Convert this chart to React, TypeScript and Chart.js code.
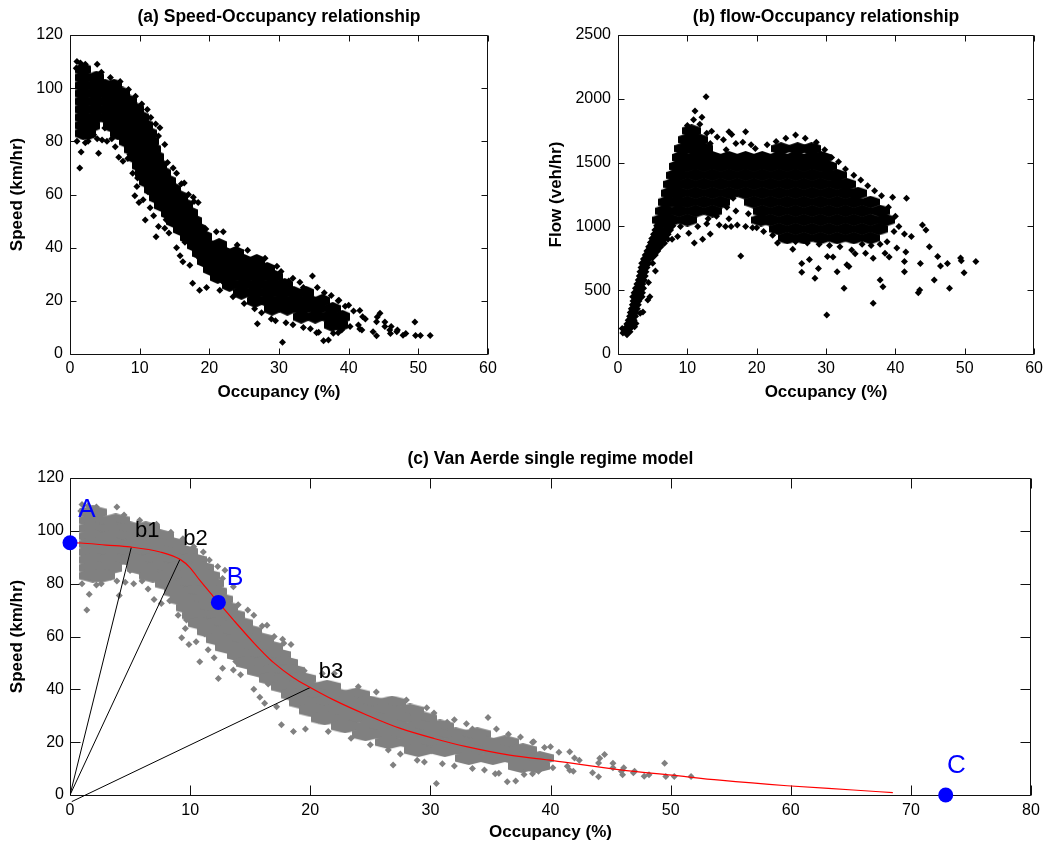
import React, { useEffect, useRef } from "react";
import { Chart, registerables } from "chart.js";

Chart.register(...registerables);

const FONT = "'Liberation Sans', Arial, Helvetica, sans-serif";

// ---------------- (a)/(c) speed vs occupancy observations ----------------
// dense part of the cloud, read row by row (occupancy %, speed km/h)
const freeFlowCore: [number, number][] = [
  [1.9, 107],
  [1.9, 104], [3.8, 104],
  [1.9, 101], [3.5, 101], [5.0, 101], [6.3, 101],
  [1.9, 98], [3.8, 98], [5.7, 98], [7.5, 98],
  [1.9, 95], [3.6, 95], [5.3, 95], [7.0, 95], [8.5, 95],
  [1.9, 92], [3.8, 92], [5.7, 92], [7.6, 92], [9.5, 92],
  [1.9, 89], [3.6, 89], [5.3, 89], [7.0, 89], [8.6, 89], [10.2, 89],
  [1.9, 86], [3.2, 86], [5.9, 86], [7.5, 86], [9.2, 86], [10.8, 86],
  [1.9, 83], [2.6, 83], [6.9, 83], [8.4, 83], [9.9, 83], [11.3, 83],
  [8.2, 80], [9.9, 80], [11.65, 80],
];
const transitionCore: [number, number][] = [
  [8.95, 77], [10.5, 77], [11.9, 77],
  [9.5, 74], [11.0, 74], [12.4, 74],
  [10.0, 71], [11.4, 71], [12.8, 71],
  [10.5, 68], [12.0, 68], [13.4, 68],
  [11.0, 65], [12.5, 65], [14.05, 65],
  [11.7, 62], [13.2, 62], [14.8, 62],
  [12.45, 59], [14.1, 59], [15.8, 59],
  [13.2, 56], [14.9, 56], [16.55, 56],
  [14.2, 53], [15.7, 53], [17.2, 53],
  [14.95, 50], [16.4, 50], [17.8, 50],
  [15.9, 47], [17.2, 47], [18.4, 47],
  [16.9, 44], [18.1, 44], [19.3, 44],
];
const congestedCore: [number, number][] = [
  [17.9, 41], [19.6, 41], [21.4, 41],
  [18.7, 38], [20.4, 38], [22.1, 38], [23.8, 38],
  [19.4, 35], [21.3, 35], [23.1, 35], [25.0, 35], [26.8, 35],
  [20.2, 32], [22.2, 32], [24.2, 32], [26.3, 32], [28.3, 32],
  [21.2, 29], [23.2, 29], [25.3, 29], [27.3, 29], [29.4, 29],
  [22.9, 26], [24.9, 26], [26.9, 26], [28.9, 26], [30.8, 26],
  [24.6, 23], [26.5, 23], [28.4, 23], [30.3, 23], [32.1, 23], [33.9, 23],
  [26.55, 20], [28.5, 20], [30.4, 20], [32.4, 20], [34.3, 20], [36.2, 20],
  [29.0, 17], [31.2, 17], [33.3, 17], [35.5, 17], [37.7, 17],
  [33.2, 14], [35.2, 14], [37.2, 14], [39.1, 14],
  [37.6, 11], [38.8, 11],
];
// scattered single observations
const freeFlowScatter: [number, number][] = [
  [1.0, 110], [1.5, 109.5], [2.2, 109], [3.9, 109], [0.9, 107.5], [1.4, 70], [1.6, 76], [1.0, 80],
  [2.2, 79.5], [2.6, 80], [3.9, 81], [4.1, 75.5], [4.6, 80.5], [5.3, 80], [3.4, 82.5], [5.0, 85],
  [6.0, 81], [6.5, 78], [7.0, 74], [7.6, 72.5], [8.6, 75], [10.8, 75], [4.5, 106], [5.8, 104],
  [7.2, 102.5], [8.4, 99.5], [9.4, 97], [10.3, 94], [11.1, 92], [11.6, 89], [12.3, 86.5],
];
const transitionScatter: [number, number][] = [
  [9.3, 59.5], [9.9, 57], [10.8, 50.4], [10.5, 58], [11.2, 61], [11.5, 55], [12.0, 52], [12.35, 44.1],
  [12.7, 48], [13.6, 47.3], [14.2, 45.5], [15.3, 40], [15.8, 37], [16.2, 34.7], [17.2, 33.4], [17.6, 26.6],
  [18.6, 24], [19.6, 25], [20.7, 28.4], [21.5, 24], [12.9, 85.1], [12.7, 82], [13.6, 78.8], [14.0, 72],
  [14.6, 64.3], [14.8, 70], [15.3, 68], [16.0, 64], [16.4, 64.3], [17.0, 60], [17.7, 59], [17.8, 57.4],
  [18.4, 57], [18.6, 47.3], [19.5, 47], [21.0, 46], [22.0, 46], [18.6, 35.9], [19.7, 32.2], [11.1, 68.7],
  [9.7, 66.2], [12.6, 57], [13.2, 55], [9.0, 68], [9.6, 63], [13.8, 50.5], [16.5, 42], [8.3, 73.5],
];
const congestedScatter: [number, number][] = [
  [24.0, 41], [25.5, 39], [28.0, 36], [29.7, 33], [30.3, 31], [32.0, 28.5], [33.0, 27], [34.8, 29.3],
  [35.5, 25], [36.5, 23], [37.5, 22], [38.5, 20], [39.5, 18], [40.0, 18.3], [40.7, 16.2], [41.6, 16.4],
  [38.6, 20.2], [23.4, 21.5], [25.0, 19], [26.5, 17], [26.9, 11.4], [27.5, 15.5], [28.9, 13.2], [29.5, 12.5],
  [30.5, 4.4], [31.0, 11.8], [32.0, 11], [33.5, 10], [34.5, 9.5], [35.4, 8], [35.7, 8.2], [36.4, 5],
  [37.1, 5.3], [37.8, 7.8], [38.5, 8], [39.0, 9], [40.2, 10.3], [41.4, 10.9], [41.9, 9], [41.6, 9.4],
  [42.0, 14], [42.4, 13.2], [43.5, 8.4], [44.0, 12.1], [44.1, 13.9], [44.5, 15.3], [44.0, 6.9], [45.2, 10.3],
  [45.2, 12.0], [45.9, 9], [46.1, 10.3], [46.0, 7.7], [46.9, 8.4], [47.0, 9], [47.8, 7.1], [48.2, 7.7],
  [49.5, 12], [49.6, 7], [50.3, 7], [51.7, 7], [20.3, 30.5], [22.0, 27], [24.3, 23.5], [31.4, 27.5],
  [33.5, 25], [27.0, 34.5], [18.2, 40.5],
];

// ---------------- (b) flow vs occupancy observations ----------------
const flowArm: [number, number][] = [
  [1.3, 175], [1.5, 205], [1.7, 235], [1.9, 265], [2.1, 295], [2.2, 325], [2.35, 355], [2.5, 385],
  [2.6, 415], [2.55, 449], [3.05, 449], [2.75, 480], [3.1, 480], [2.95, 515], [3.25, 515], [3.15, 548],
  [3.35, 580], [3.5, 612], [3.6, 645], [3.75, 678], [3.85, 711], [4.05, 711], [4.1, 744], [4.35, 776],
  [4.95, 776], [4.6, 808], [5.3, 808], [4.85, 841], [5.75, 841], [5.1, 873], [6.1, 873], [5.3, 906],
  [6.45, 906], [5.55, 939], [6.8, 939], [5.75, 972], [7.15, 972], [6.0, 1005], [7.5, 1005],
];
const flowCore: [number, number][] = [
  [10.6, 1750],
  [10.0, 1680], [11.6, 1680],
  [9.5, 1610], [11.0, 1610], [12.4, 1610], [23.5, 1610], [25.9, 1610], [27.9, 1610],
  [9.1, 1540], [11.2, 1540], [13.6, 1540], [16.0, 1540], [18.4, 1540], [20.8, 1540], [23.2, 1540], [25.6, 1540], [28.0, 1540], [29.3, 1540],
  [8.7, 1470], [10.0, 1470], [12.4, 1470], [14.8, 1470], [17.2, 1470], [19.6, 1470], [22.0, 1470], [24.4, 1470], [26.8, 1470], [29.2, 1470], [30.2, 1470],
  [8.3, 1400], [8.8, 1400], [11.2, 1400], [13.6, 1400], [16.0, 1400], [18.4, 1400], [20.8, 1400], [23.2, 1400], [25.6, 1400], [28.0, 1400], [30.4, 1400], [31.6, 1400],
  [7.9, 1330], [10.0, 1330], [12.4, 1330], [14.8, 1330], [17.2, 1330], [19.6, 1330], [22.0, 1330], [24.4, 1330], [26.8, 1330], [29.2, 1330], [31.6, 1330], [33.0, 1330],
  [7.5, 1260], [8.8, 1260], [11.2, 1260], [13.6, 1260], [16.0, 1260], [18.4, 1260], [20.8, 1260], [23.2, 1260], [25.6, 1260], [28.0, 1260], [30.4, 1260], [32.8, 1260], [34.6, 1260],
  [7.1, 1190], [8.6, 1190], [10.0, 1190], [12.4, 1190], [14.8, 1190], [19.6, 1190], [22.0, 1190], [24.4, 1190], [26.8, 1190], [29.2, 1190], [31.6, 1190], [34.0, 1190], [36.4, 1190],
  [6.7, 1120], [8.8, 1120], [11.2, 1120], [13.6, 1120], [20.8, 1120], [23.2, 1120], [25.6, 1120], [28.0, 1120], [30.4, 1120], [32.8, 1120], [35.2, 1120], [37.8, 1120],
  [6.3, 1050], [7.6, 1050], [10.0, 1050], [20.6, 1050], [22.0, 1050], [24.4, 1050], [26.8, 1050], [29.2, 1050], [31.6, 1050], [34.0, 1050], [36.4, 1050], [38.6, 1050],
  [23.2, 980], [25.6, 980], [28.0, 980], [30.4, 980], [32.8, 980], [35.2, 980], [37.6, 980],
  [24.4, 910], [26.8, 910], [29.2, 910], [31.6, 910], [34.0, 910], [36.4, 910],
];
const flowScatter: [number, number][] = [
  [12.7, 2016], [11.1, 1904], [12.1, 1855], [10.0, 1790], [10.9, 1835], [11.8, 1800], [12.8, 1730], [13.5, 1745],
  [14.3, 1700], [15.2, 1680], [16.0, 1742], [16.4, 1720], [17.0, 1650], [18.4, 1742], [18.0, 1660], [19.2, 1640],
  [13.3, 1650], [15.6, 1600], [19.8, 1610], [21.5, 1640], [22.8, 1665], [24.2, 1690], [25.6, 1716], [27.0, 1690],
  [28.6, 1660], [29.8, 1600], [30.8, 1540], [31.8, 1507], [32.8, 1450], [34.0, 1400], [35.0, 1364], [36.0, 1318],
  [37.0, 1280], [38.0, 1240], [39.6, 1228], [41.6, 1220], [39.0, 1150], [40.0, 1080], [40.5, 1000], [39.8, 960],
  [41.3, 940], [38.8, 880], [37.8, 860], [36.5, 850], [35.2, 860], [33.7, 815], [32.0, 840], [30.5, 850],
  [29.0, 860], [27.3, 870], [25.6, 880], [24.0, 900], [22.3, 930], [21.0, 960], [20.0, 990],
  [26.5, 710], [26.5, 640], [28.4, 593], [28.9, 670], [30.1, 306], [30.2, 765], [31.6, 645], [32.6, 515],
  [33.3, 685], [34.2, 785], [36.8, 750], [36.8, 397], [37.8, 580], [38.2, 528], [39.1, 760], [41.3, 724],
  [41.3, 645], [42.3, 920], [43.6, 710], [43.9, 1011], [44.4, 972], [44.9, 841], [43.5, 502], [43.3, 480],
  [45.6, 580], [46.1, 765], [46.5, 690], [47.5, 710], [47.8, 515], [49.4, 752], [49.5, 730], [49.9, 637],
  [51.6, 724], [41.5, 800], [40.2, 830], [38.5, 790], [35.7, 790], [33.0, 700], [31.0, 760], [27.6, 740],
  [25.2, 820], [23.0, 870], [17.7, 768],
  [7.8, 900], [8.6, 920], [9.0, 1000], [10.2, 946], [11.0, 870], [12.2, 900], [13.3, 940], [14.6, 1010],
  [15.5, 1000], [16.3, 1000], [17.2, 1010], [18.4, 1000], [19.4, 990], [12.8, 1020], [11.5, 1000], [16.0, 1060],
  [17.0, 1120], [15.7, 1150], [18.8, 1100], [14.2, 1080], [13.0, 1060], [16.6, 1220], [19.0, 1200],
  [0.7, 165], [0.6, 200], [2.4, 214], [2.6, 240], [3.2, 319], [3.6, 330], [4.3, 423], [4.6, 449],
  [4.4, 560], [5.0, 711], [5.4, 650], [6.7, 867], [7.2, 900],
];

// ---------------- (c) Van Aerde model ----------------
const modelOcc = [0, 0.9, 3, 5, 7.5, 9.2, 10, 10.8, 11.9, 12.35, 13.6, 15.3, 16.1, 16.9, 18.6, 20, 21.9, 24.7, 27.5, 30.3, 33, 36.6, 40.2, 45.8, 50.1, 54.1, 59.7, 65.2, 68.5];
const modelSpeed = [95.5, 95.4, 94.6, 93.9, 92, 89.1, 86, 81.3, 75.3, 72.9, 66.3, 57.6, 53.8, 50.3, 44.4, 40.7, 36.1, 30.3, 25.2, 21.4, 18.3, 15.1, 13, 9.5, 7.5, 5.6, 3.5, 1.9, 0.9];
const rayB1: [number, number][] = [[0, 0], [5.1, 93.7]];
const rayB2: [number, number][] = [[0, 0], [9.15, 89.2]];
const rayB3: [number, number][] = [[0.15, -2.5], [20, 40.7]];
const keyOcc = [0, 12.35, 72.9];
const keySpeed = [95.5, 72.9, 0];
const labelText = ["A", "B", "C", "b1", "b2", "b3"];
const labelOcc = [0.69, 13.05, 73.0, 5.41, 9.43, 20.7];
const labelSpeed = [105.3, 79.5, 8.2, 97.7, 94.6, 44.2];

// ---------------- ticks ----------------
const occTicksAB = [0, 10, 20, 30, 40, 50, 60];
const occTicksC = [0, 10, 20, 30, 40, 50, 60, 70, 80];
const speedTicks = [0, 20, 40, 60, 80, 100, 120];
const flowTicks = [0, 500, 1000, 1500, 2000, 2500];

// styles (kept apart from data)
const labelColor = ["#0000ff", "#0000ff", "#0000ff", "#000000", "#000000", "#000000"];
const labelSize = [26, 25, 26, 22, 22, 22];

const pts = (a: [number, number][]) => a.map(([x, y]) => ({ x, y }));

// pointy-top hexagon marker used for the dense parts of the clouds
function hexImage(w: number, h: number, color: string) {
  const c = document.createElement("canvas");
  c.width = w;
  c.height = h;
  const g = c.getContext("2d")!;
  g.fillStyle = color;
  g.beginPath();
  g.moveTo(w / 2, 0);
  g.lineTo(w, h / 4);
  g.lineTo(w, (3 * h) / 4);
  g.lineTo(w / 2, h);
  g.lineTo(0, (3 * h) / 4);
  g.lineTo(0, h / 4);
  g.closePath();
  g.fill();
  return c;
}

function boxTicks(len: number) {
  return {
    id: "boxTicks",
    beforeDatasetsDraw(chart: any) {
      const { ctx, chartArea: a, scales } = chart;
      const L = Math.round(a.left) + 0.5;
      const R = Math.round(a.right) - 0.5;
      const T = Math.round(a.top) + 0.5;
      const B = Math.round(a.bottom) + 0.5;
      ctx.save();
      ctx.strokeStyle = "#111";
      ctx.lineWidth = 1;
      ctx.beginPath();
      ctx.rect(L, T, R - L, B - T);
      for (const t of scales.x.ticks) {
        const x = Math.round(scales.x.getPixelForValue(t.value)) + 0.5;
        ctx.moveTo(x, B);
        ctx.lineTo(x, B - len);
        ctx.moveTo(x, T);
        ctx.lineTo(x, T + len);
      }
      for (const t of scales.y.ticks) {
        const y = Math.round(scales.y.getPixelForValue(t.value)) + 0.5;
        ctx.moveTo(L, y);
        ctx.lineTo(L + len, y);
        ctx.moveTo(R, y);
        ctx.lineTo(R - len, y);
      }
      ctx.stroke();
      ctx.restore();
    },
  };
}

const labelsPlugin = {
  id: "vaLabels",
  afterDatasetsDraw(chart: any) {
    const { ctx, scales } = chart;
    ctx.save();
    ctx.textAlign = "left";
    ctx.textBaseline = "alphabetic";
    labelText.forEach((t, i) => {
      ctx.fillStyle = labelColor[i];
      ctx.font = `${labelSize[i]}px ${FONT}`;
      ctx.fillText(t, scales.x.getPixelForValue(labelOcc[i]), scales.y.getPixelForValue(labelSpeed[i]));
    });
    ctx.restore();
  },
};

function options(p: any) {
  return {
    responsive: false,
    animation: false,
    events: [],
    layout: { padding: { left: 0, top: 0, right: p.padRight, bottom: 0 } },
    plugins: {
      legend: { display: false },
      tooltip: { enabled: false },
      title: {
        display: true,
        fullSize: false,
        text: p.title,
        color: "#000",
        font: { family: FONT, size: 17.5, weight: "bold", lineHeight: 1.2 },
        padding: { top: p.titlePad[0], bottom: p.titlePad[1] },
      },
    },
    scales: {
      x: {
        type: "linear",
        min: p.xTicks[0],
        max: p.xTicks[p.xTicks.length - 1],
        afterBuildTicks: (s: any) => {
          s.ticks = p.xTicks.map((v: number) => ({ value: v }));
        },
        afterFit: (s: any) => {
          s.height = p.xHeight;
        },
        grid: { display: false, drawTicks: false },
        border: { display: false },
        ticks: {
          color: "#000",
          font: { family: FONT, size: 16 },
          padding: p.xTickPad,
          maxRotation: 0,
          autoSkip: false,
          callback: (v: any) => String(v),
        },
        title: {
          display: true,
          text: "Occupancy (%)",
          color: "#000",
          font: { family: FONT, size: 17, weight: "bold", lineHeight: 1.2 },
          padding: { top: 0, bottom: p.xTitlePad },
        },
      },
      y: {
        type: "linear",
        min: p.yTicks[0],
        max: p.yTicks[p.yTicks.length - 1],
        afterBuildTicks: (s: any) => {
          s.ticks = p.yTicks.map((v: number) => ({ value: v }));
        },
        afterFit: (s: any) => {
          s.width = p.yWidth;
        },
        grid: { display: false, drawTicks: false },
        border: { display: false },
        ticks: {
          color: "#000",
          font: { family: FONT, size: 16 },
          padding: p.yTickPad,
          autoSkip: false,
          callback: (v: any) => String(v),
        },
        title: {
          display: true,
          text: p.yTitle,
          color: "#000",
          font: { family: FONT, size: 17, weight: "bold", lineHeight: 1.2 },
          padding: { top: p.yTitlePad, bottom: 0 },
        },
      },
    },
  };
}

const speedAll = [...freeFlowCore, ...transitionCore, ...congestedCore];
const speedScatterAll = [...freeFlowScatter, ...transitionScatter, ...congestedScatter];

export default function App() {
  const ra = useRef<HTMLCanvasElement>(null);
  const rb = useRef<HTMLCanvasElement>(null);
  const rc = useRef<HTMLCanvasElement>(null);

  useEffect(() => {
    const charts: Chart[] = [];

    charts.push(
      new Chart(ra.current!, {
        type: "scatter",
        data: {
          datasets: [
            { data: pts(speedScatterAll), pointStyle: "rectRot", pointRadius: 3.5, backgroundColor: "#000", borderWidth: 0 },
            { data: pts(speedAll), pointStyle: hexImage(16, 14, "#000"), pointRadius: 8, backgroundColor: "#000", borderWidth: 0 },
          ],
        },
        options: options({
          title: "(a) Speed-Occupancy relationship",
          yTitle: "Speed (km/hr)",
          xTicks: occTicksAB,
          yTicks: speedTicks,
          padRight: 36,
          titlePad: [7, 7],
          yWidth: 70,
          xHeight: 66,
          xTickPad: 5,
          yTickPad: 7,
          xTitlePad: 17.3,
          yTitlePad: 7.3,
        }) as any,
        plugins: [boxTicks(6)],
      })
    );

    charts.push(
      new Chart(rb.current!, {
        type: "scatter",
        data: {
          datasets: [
            { data: pts(flowScatter), pointStyle: "rectRot", pointRadius: 3.5, backgroundColor: "#000", borderWidth: 0 },
            { data: pts(flowArm), pointStyle: "rectRot", pointRadius: 6.5, backgroundColor: "#000", borderWidth: 0 },
            { data: pts(flowCore), pointStyle: hexImage(19, 13, "#000"), pointRadius: 9, backgroundColor: "#000", borderWidth: 0 },
          ],
        },
        options: options({
          title: "(b) flow-Occupancy relationship",
          yTitle: "Flow (veh/hr)",
          xTicks: occTicksAB,
          yTicks: flowTicks,
          padRight: 11,
          titlePad: [7, 7],
          yWidth: 94,
          xHeight: 66,
          xTickPad: 5,
          yTickPad: 7,
          xTitlePad: 17.3,
          yTitlePad: 21.8,
        }) as any,
        plugins: [boxTicks(6)],
      })
    );

    const line = (d: [number, number][], color: string, clip: any = undefined) => ({
      data: pts(d),
      showLine: true,
      borderColor: color,
      borderWidth: 1,
      pointRadius: 0,
      fill: false,
      ...(clip === undefined ? {} : { clip }),
    });

    charts.push(
      new Chart(rc.current!, {
        type: "scatter",
        data: {
          datasets: [
            {
              data: keyOcc.map((x, i) => ({ x, y: keySpeed[i] })),
              pointStyle: "circle",
              pointRadius: 7.5,
              backgroundColor: "#0000ff",
              borderWidth: 0,
              clip: false,
            },
            {
              data: modelOcc.map((x, i) => ({ x, y: modelSpeed[i] })),
              showLine: true,
              borderColor: "#ff0000",
              borderWidth: 1.2,
              pointRadius: 0,
              cubicInterpolationMode: "monotone",
              fill: false,
            },
            line(rayB1, "#000"),
            line(rayB2, "#000"),
            line(rayB3, "#000", false),
            { data: pts(speedScatterAll), pointStyle: "rectRot", pointRadius: 3.5, backgroundColor: "#808080", borderWidth: 0 },
            { data: pts(speedAll), pointStyle: hexImage(28, 14, "#808080"), pointRadius: 9, backgroundColor: "#808080", borderWidth: 0 },
          ],
        },
        options: options({
          title: "(c) Van Aerde single regime model",
          yTitle: "Speed (km/hr)",
          xTicks: occTicksC,
          yTicks: speedTicks,
          padRight: 17,
          titlePad: [18.2, 8.8],
          yWidth: 70,
          xHeight: 50,
          xTickPad: 6,
          yTickPad: 6,
          xTitlePad: 2.3,
          yTitlePad: 6.8,
        }) as any,
        plugins: [boxTicks(10), labelsPlugin],
      })
    );

    return () => charts.forEach((c) => c.destroy());
  }, []);

  return (
    <div style={{ position: "absolute", left: 0, top: 0, width: 1048, height: 845, background: "#fff" }}>
      <canvas ref={ra} width={524} height={420} style={{ position: "absolute", left: 0, top: 0 }} />
      <canvas ref={rb} width={524} height={420} style={{ position: "absolute", left: 524, top: 0 }} />
      <canvas ref={rc} width={1048} height={415} style={{ position: "absolute", left: 0, top: 430 }} />
    </div>
  );
}
